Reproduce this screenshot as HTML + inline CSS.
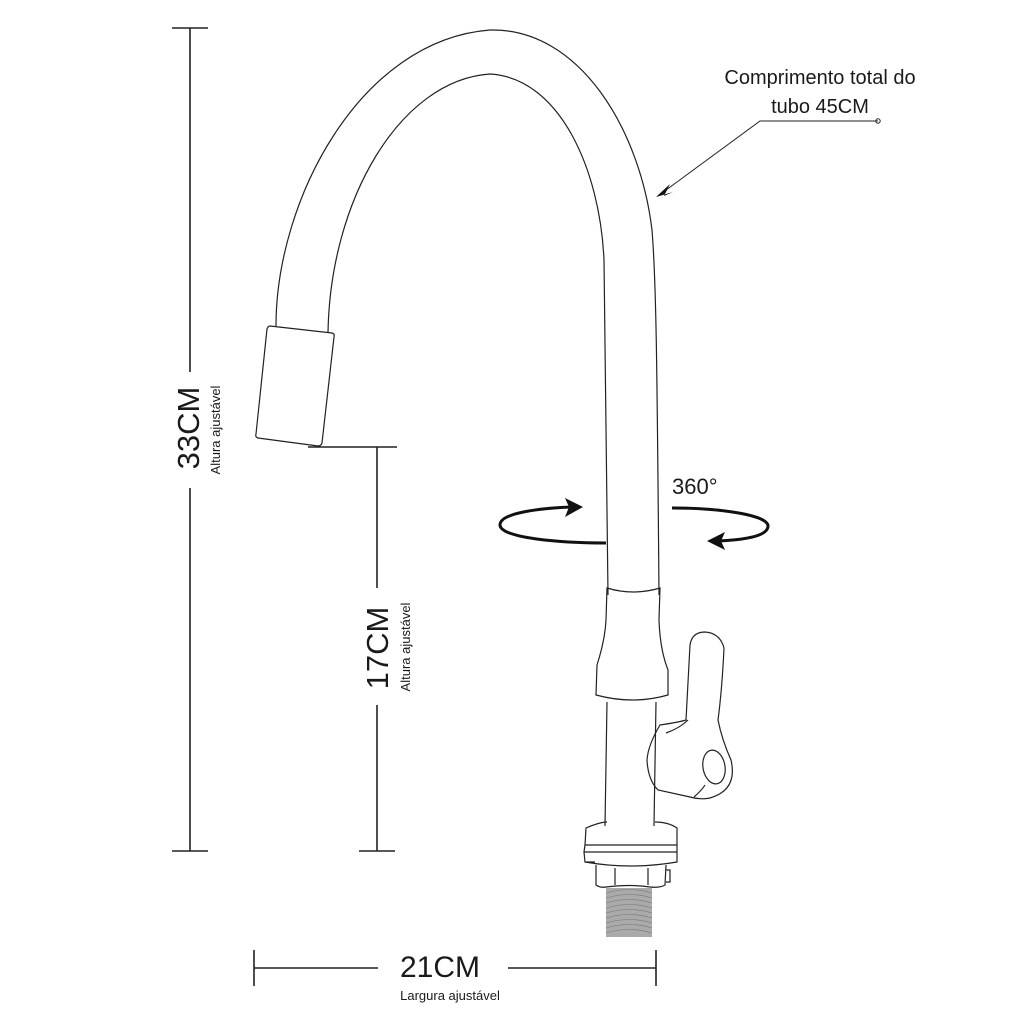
<!DOCTYPE html>
<html><head><style>body{margin:0;background:#fff}svg{display:block}</style></head><body>
<svg width="1024" height="1024" viewBox="0 0 1024 1024" xmlns="http://www.w3.org/2000/svg" font-family="Liberation Sans, sans-serif">
<g fill="none" stroke="#222" stroke-width="1.2">
<!-- outer arc -->
<path d="M276,326 C276,200 360,40 490,30 C580,28 640,130 652,230 C656,280 657,350 659,595"/>
<!-- inner arc -->
<path d="M328,333 C330,200 400,80 490,74 C560,78 600,170 604,260 C606,350 607,450 608,595"/>
<!-- nozzle -->
<path d="M270,326 L332,333 Q335,334 334,337 L322,443 Q321,446 318,446 L258,438 Q255,437 256,434 L267,329 Q268,326 270,326Z"/>
<!-- collar -->
<path d="M607,588 Q633,596 660,588 L659,620 Q660,650 668,670 L668,695 Q633,705 596,695 L597,665 Q605,640 606,620 Z"/>
<!-- pipe -->
<path d="M607,702 L605,826 M656,702 L654,826"/>
<!-- handle -->
<path d="M690,645 Q692,632 705,632 Q720,633 724,648 Q722,690 718,720 Q722,740 731,760 Q738,790 710,798 Q700,800 690,797 L658,790 Q648,780 647,760 Q648,745 660,725 Q680,722 686,720 L690,645Z"/>
<path d="M666,733 Q680,728 688,720"/>
<ellipse cx="714" cy="767" rx="11" ry="17" transform="rotate(-10 714 767)"/>
<path d="M694,797 Q702,790 705,785"/>
<!-- base ring -->
<path d="M607,822 Q600,822 586,828 L585,845 L677,845 L677,828 Q668,822 655,822"/>
<path d="M585,845 L584,852 L677,852 L677,845 M584,852 L585,862 Q631,870 677,862 L677,852 M585,862 L595,862"/>
<!-- nut -->
<path d="M596,865 L596,885 Q600,888 606,887 Q630,884 650,887 Q660,888 665,885 L666,865 M615,868 L615,885 M648,868 L648,885 M666,870 L670,870 L670,882 L666,882"/>
</g>
<!-- threads -->
<rect x="606" y="888" width="46" height="49" fill="#aaa"/>
<g stroke="#777" stroke-width="0.6" fill="none">
<path d="M606,893 Q629,886 652,893 M606,898 Q629,891 652,898 M606,903 Q629,896 652,903 M606,908 Q629,901 652,908 M606,913 Q629,906 652,913 M606,918 Q629,911 652,918 M606,923 Q629,916 652,923 M606,928 Q629,921 652,928 M606,933 Q629,926 652,933"/>
</g>
<!-- dimension lines -->
<g stroke="#222" stroke-width="1.6" fill="none">
<path d="M190,28 V372 M190,488 V851 M172,28 H208 M172,851 H208"/>
<path d="M377,447 V588 M377,705 V851 M359,851 H395 M308,447 H397"/>
<path d="M254,968 H378 M508,968 H656 M254,950 V986 M656,950 V986"/>
</g>
<!-- rotation arrows -->
<g stroke="#111" stroke-width="3" fill="none">
<path d="M606,543 C560,543 500,538 500,525 C500,512 545,508 572,507"/>
<path d="M672,508 C720,508 768,515 768,526 C768,537 740,540 718,541"/>
</g>
<path d="M583,507 L565,498 L569,507 L565,517Z" fill="#111"/>
<path d="M707,541 L725,532 L721,541 L725,550Z" fill="#111"/>
<!-- label leader -->
<g stroke="#222" stroke-width="1" fill="none">
<path d="M878,121 H760 L662,193"/>
<circle cx="878" cy="121" r="2.2"/>
</g>
<path d="M656,197 L670,184 L664,196 L673,192Z" fill="#111"/>
<g fill="#1a1a1a">
<text x="820" y="84" font-size="20" text-anchor="middle">Comprimento total do</text>
<text x="820" y="113" font-size="20" text-anchor="middle">tubo 45CM</text>
<text x="672" y="494" font-size="22">360°</text>
<text x="440" y="977" font-size="30" text-anchor="middle">21CM</text>
<text x="450" y="1000" font-size="13" text-anchor="middle">Largura ajustável</text>
<text transform="translate(199,428) rotate(-90)" font-size="31" text-anchor="middle">33CM</text>
<text transform="translate(220,430) rotate(-90)" font-size="13" text-anchor="middle">Altura ajustável</text>
<text transform="translate(388,648) rotate(-90)" font-size="31" text-anchor="middle">17CM</text>
<text transform="translate(410,647) rotate(-90)" font-size="13" text-anchor="middle">Altura ajustável</text>
</g>
</svg>
</body></html>
